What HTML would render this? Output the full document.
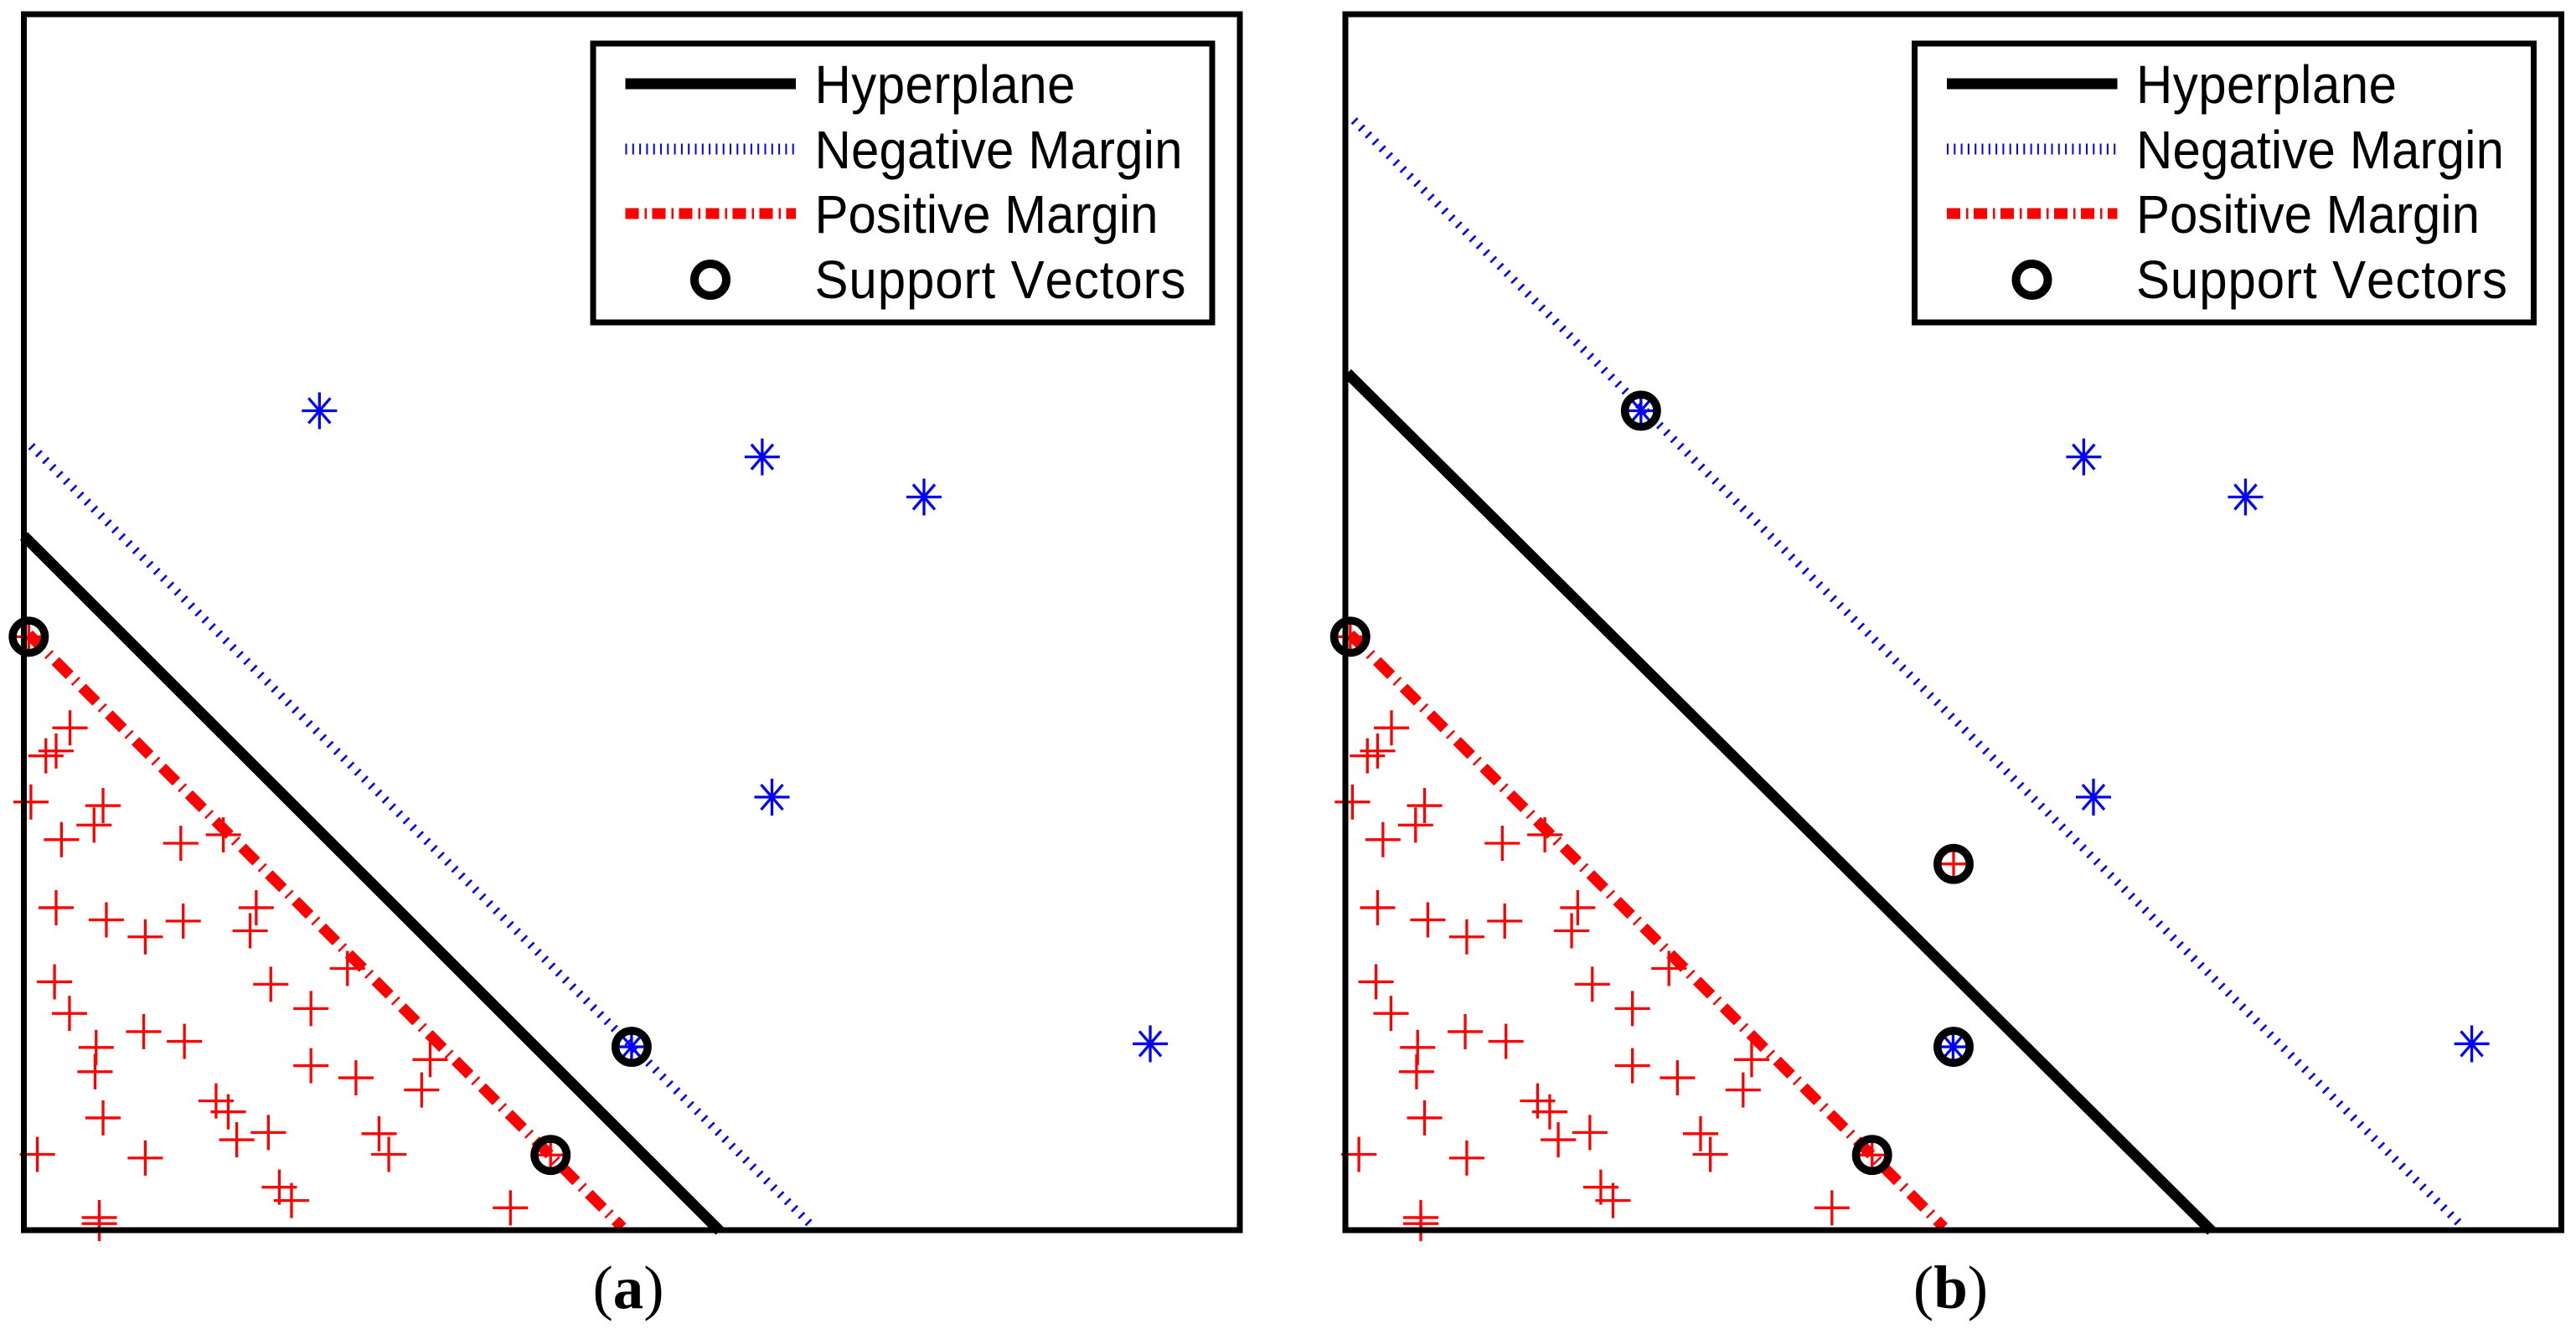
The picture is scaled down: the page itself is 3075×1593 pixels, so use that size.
<!DOCTYPE html>
<html lang="en">
<head>
<meta charset="utf-8">
<title>SVM hyperplane and margins comparison</title>
<style>
html,body{margin:0;padding:0;background:#fff;width:3075px;height:1593px;overflow:hidden}
svg{display:block}
.leg{font-family:"Liberation Sans",sans-serif;font-size:60px;fill:#000;font-kerning:none}
.cap{font-family:"Liberation Serif",serif;font-size:73px;fill:#000;text-anchor:middle}
</style>
</head>
<body>
<svg id="chart" xmlns="http://www.w3.org/2000/svg" width="3075" height="1593" viewBox="0 0 3075 1593">
  <rect width="3075" height="1593" fill="#fff"/>

  <g id="panel-a">
    <g id="marks-a"></g>
    <rect x="28.5" y="17" width="1451.5" height="1452" fill="none" stroke="#000" stroke-width="7"/>
    <g>
      <rect x="708" y="52" width="739" height="333" fill="#fff" stroke="#000" stroke-width="7"/>
      <line x1="746.5" y1="100" x2="950" y2="100" stroke="#000" stroke-width="13"/>
      <line x1="746.5" y1="178" x2="950" y2="178" stroke="#0000ff" stroke-width="13" stroke-dasharray="2 6.3"/>
      <line x1="746.5" y1="255" x2="950" y2="255" stroke="#ff0000" stroke-width="13" stroke-dasharray="16 7 2.5 6.5"/>
      <circle cx="848" cy="334" r="19" fill="none" stroke="#000" stroke-width="10"/>
      <text class="leg" transform="translate(972.5,123) scale(1,1.07)" textLength="311" lengthAdjust="spacing">Hyperplane</text>
      <text class="leg" transform="translate(972.5,201) scale(1,1.07)" textLength="439" lengthAdjust="spacing">Negative Margin</text>
      <text class="leg" transform="translate(972.5,278) scale(1,1.07)" textLength="410" lengthAdjust="spacing">Positive Margin</text>
      <text class="leg" transform="translate(972.5,356) scale(1,1.07)" textLength="443" lengthAdjust="spacing">Support Vectors</text>
    </g>
    <text class="cap" x="750" y="1562">(<tspan font-weight="bold">a</tspan>)</text>
  </g>

  <g id="panel-b" transform="translate(1577.5,0)">
    <g id="marks-b"></g>
    <rect x="28.5" y="17" width="1451.5" height="1452" fill="none" stroke="#000" stroke-width="7"/>
    <g>
      <rect x="708" y="52" width="739" height="333" fill="#fff" stroke="#000" stroke-width="7"/>
      <line x1="746.5" y1="100" x2="950" y2="100" stroke="#000" stroke-width="13"/>
      <line x1="746.5" y1="178" x2="950" y2="178" stroke="#0000ff" stroke-width="13" stroke-dasharray="2 6.3"/>
      <line x1="746.5" y1="255" x2="950" y2="255" stroke="#ff0000" stroke-width="13" stroke-dasharray="16 7 2.5 6.5"/>
      <circle cx="848" cy="334" r="19" fill="none" stroke="#000" stroke-width="10"/>
      <text class="leg" transform="translate(972.5,123) scale(1,1.07)" textLength="311" lengthAdjust="spacing">Hyperplane</text>
      <text class="leg" transform="translate(972.5,201) scale(1,1.07)" textLength="439" lengthAdjust="spacing">Negative Margin</text>
      <text class="leg" transform="translate(972.5,278) scale(1,1.07)" textLength="410" lengthAdjust="spacing">Positive Margin</text>
      <text class="leg" transform="translate(972.5,356) scale(1,1.07)" textLength="443" lengthAdjust="spacing">Support Vectors</text>
    </g>
    <text class="cap" x="751" y="1562">(<tspan font-weight="bold">b</tspan>)</text>
  </g>
</svg>

<script>
// Data (both axes run 0-100, axes are unlabelled in the figure)
const positiveX = [0.4,3.79,2.65,1.81,0.58,6.51,5.77,3.09,12.9,16.4,2.65,6.78,9.98,13.1,19.1,18.6,26.6,2.52,3.75,20.3,23.6,9.85,13.2,5.94,5.85,33.4,23.6,27.3,32.7,15.8,16.8,6.51,20.1,17.5,29.2,30.0,1.11,9.98,21.0,22.0,40.0,6.2,6.2,43.3];
const positiveY = [48.7,41.2,39.3,38.9,35.1,34.8,33.2,32.0,31.7,32.4,26.4,25.4,24.0,25.3,26.4,24.5,21.4,20.3,17.7,20.1,18.1,16.2,15.4,14.9,12.9,13.9,13.4,12.4,11.4,10.5,9.6,9.1,7.9,7.3,7.8,6.1,6.1,5.8,3.4,2.3,1.7,0.9,0.4,6.05];
const negativeX = [24.3,60.7,74.0,61.5,49.96,92.6];
const negativeY = [67.3,63.5,60.2,35.5,14.95,15.2];

const extraPositiveXB = [50.0];
const extraPositiveYB = [30.0];

const hyperplaneXA = [0,57.2];
const hyperplaneYA = [57.0,-0.2];
const negMarginXA = [0.6,64.9];
const negMarginYA = [64.4,0.1];
const posMarginXA = [0.4,49.2];
const posMarginYA = [48.9,0.1];

const hyperplaneXB = [0.16,71.2];
const hyperplaneYB = [70.4,-0.2];
const negMarginXB = [0.7,91.8];
const negMarginYB = [91.2,0.2];
const posMarginXB = [0.4,49.2];
const posMarginYB = [48.9,0.1];

const supportXA = [0.4,43.3,49.96];
const supportYA = [48.7,6.05,14.95];
const supportXB = [0.4,43.3,24.3,50.0,50.0];
const supportYB = [48.7,6.05,67.3,30.0,14.95];

// Axis functions
function xScale(v){ return 28.5 + v * 14.52; }
function yScale(v){ return 1467 - v * 14.51; }

const SVGNS = 'http://www.w3.org/2000/svg';

function seg(parent, name, x1, y1, x2, y2, color, width, dash){
  const el = document.createElementNS(SVGNS, 'line');
  
  
  el.setAttribute('x1', x1);
  el.setAttribute('y1', y1);
  el.setAttribute('x2', x2);
  el.setAttribute('y2', y2);
  el.setAttribute('stroke', color);
  el.setAttribute('stroke-width', width);
  if (dash) el.setAttribute('stroke-dasharray', dash);
  parent.appendChild(el);
  return el;
}

function group(parent, name){
  const el = document.createElementNS(SVGNS, 'g');
  
  
  parent.appendChild(el);
  return el;
}

function plus(parent, vx, vy, i){
  const g = group(parent, 'positive-point-' + i);
  const cx = xScale(vx), cy = yScale(vy);
  seg(g, 'plus-horizontal-stroke', cx - 21, cy, cx + 21, cy, '#ff0000', 3.3);
  seg(g, 'plus-vertical-stroke', cx, cy - 21, cx, cy + 21, '#ff0000', 3.3);
}

function star(parent, vx, vy, i){
  const g = group(parent, 'negative-point-' + i);
  const cx = xScale(vx), cy = yScale(vy);
  seg(g, 'star-horizontal-stroke', cx - 21, cy, cx + 21, cy, '#0000ff', 3.3);
  seg(g, 'star-vertical-stroke', cx, cy - 22, cx, cy + 22, '#0000ff', 3.3);
  seg(g, 'star-diagonal-stroke', cx - 13, cy - 15, cx + 13, cy + 15, '#0000ff', 3.3);
  seg(g, 'star-antidiagonal-stroke', cx - 13, cy + 15, cx + 13, cy - 15, '#0000ff', 3.3);
}

function ring(parent, vx, vy, i){
  const el = document.createElementNS(SVGNS, 'circle');
  
  
  el.setAttribute('cx', xScale(vx));
  el.setAttribute('cy', yScale(vy));
  el.setAttribute('r', 19.2);
  el.setAttribute('fill', 'none');
  el.setAttribute('stroke', '#000');
  el.setAttribute('stroke-width', 9.5);
  parent.appendChild(el);
}

function drawPanel(id, hx, hy, nx, ny, px, py, sx, sy, ex, ey){
  const root = document.getElementById(id);
  positiveX.forEach(function(v, i){ plus(root, v, positiveY[i], i); });
  ex.forEach(function(v, i){ plus(root, v, ey[i], 'extra-' + i); });
  negativeX.forEach(function(v, i){ star(root, v, negativeY[i], i); });
  seg(root, 'negative-margin-line', xScale(nx[0]), yScale(ny[0]), xScale(nx[1]), yScale(ny[1]), '#0000ff', 10, '2.6 9.1');
  seg(root, 'positive-margin-line', xScale(px[0]), yScale(py[0]), xScale(px[1]), yScale(py[1]), '#ff0000', 13, '24 9 2.5 9.5');
  seg(root, 'hyperplane-line', xScale(hx[0]), yScale(hy[0]), xScale(hx[1]), yScale(hy[1]), '#000', 13);
  sx.forEach(function(v, i){ ring(root, v, sy[i], i); });
}

drawPanel('marks-a', hyperplaneXA, hyperplaneYA, negMarginXA, negMarginYA, posMarginXA, posMarginYA, supportXA, supportYA, [], []);
drawPanel('marks-b', hyperplaneXB, hyperplaneYB, negMarginXB, negMarginYB, posMarginXB, posMarginYB, supportXB, supportYB, extraPositiveXB, extraPositiveYB);
</script>
</body>
</html>
